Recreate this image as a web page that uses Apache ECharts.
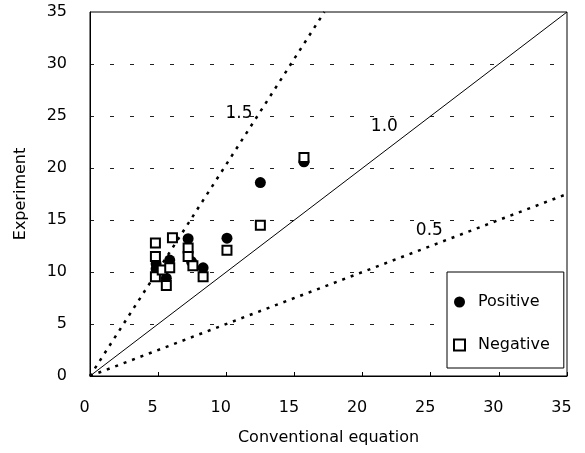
<!DOCTYPE html>
<html>
<head>
<meta charset="utf-8">
<script src="https://cdn.jsdelivr.net/npm/echarts@6/dist/echarts.min.js"></script>
<style>
html,body{margin:0;padding:0;background:#fff;}
#chart{width:585px;height:453px;}
</style>
</head>
<body>
<div id="chart"></div>
<script>
// Data
const positiveX = [4.85, 4.85, 5.6, 5.85, 7.2, 7.45, 8.3, 10.05, 12.5, 15.7];
const positiveY = [10.8, 10.3, 9.4, 11.15, 13.2, 11.0, 10.4, 13.25, 18.6, 20.6];
const negativeX = [4.8, 4.8, 4.8, 5.3, 5.6, 5.85, 6.05, 7.2, 7.2, 7.55, 8.3, 10.05, 12.5, 15.7];
const negativeY = [12.8, 11.5, 9.55, 10.2, 8.7, 10.4, 13.3, 12.3, 11.5, 10.6, 9.55, 12.1, 14.5, 21.0];

// Reference ratio lines (end points)
const line15X = [0, 17.2];
const line15Y = [0, 35];
const line10X = [0, 35];
const line10Y = [0, 35];
const line05X = [0, 35];
const line05Y = [0, 17.5];

// Ratio line labels
const ratioLabels = ['1.5', '1.0', '0.5'];
const ratioLabelX = [10.93, 21.6, 24.9];
const ratioLabelY = [25.2, 24.0, 14.0];

const seriesNames = ['Positive', 'Negative'];
const xAxisName = 'Conventional equation';
const yAxisName = 'Experiment';

const FONT = 'DejaVu Sans';
const zip = (a, b) => a.map((v, i) => [v, b[i]]);

const chart = echarts.init(document.getElementById('chart'), null, {renderer: 'canvas'});
chart.setOption({
  animation: false,
  backgroundColor: '#fff',
  textStyle: {fontFamily: FONT, color: '#000'},
  grid: {left: 90, right: 18, top: 12, bottom: 77, show: true, borderColor: '#000', borderWidth: 1, backgroundColor: 'transparent'},
  xAxis: {
    type: 'value', min: 0, max: 35, interval: 5,
    name: xAxisName, nameLocation: 'middle', nameGap: 54,
    nameTextStyle: {fontFamily: FONT, fontSize: 16, color: '#000'},
    axisLine: {show: true, lineStyle: {color: '#000', width: 1}},
    axisTick: {show: true, inside: true, length: 4, lineStyle: {color: '#000'}},
    axisLabel: {fontFamily: FONT, fontSize: 16, color: '#000', margin: 24, padding: [0, 11, 0, 0]},
    splitLine: {show: false}
  },
  yAxis: {
    type: 'value', min: 0, max: 35, interval: 5,
    name: yAxisName, nameLocation: 'middle', nameGap: 61, nameRotate: 90,
    nameTextStyle: {fontFamily: FONT, fontSize: 16, color: '#000'},
    axisLine: {show: true, lineStyle: {color: '#000', width: 1}},
    axisTick: {show: false},
    axisLabel: {fontFamily: FONT, fontSize: 16, color: '#000', margin: 23, padding: [8, 0, 0, 0]},
    splitLine: {show: true, showMinLine: false, showMaxLine: false, lineStyle: {color: '#222', width: 1, type: [4, 16]}}
  },
  legend: {
    data: seriesNames,
    orient: 'vertical',
    left: 447, top: 272,
    padding: [22, 14, 15, 6],
    itemWidth: 11, itemHeight: 11,
    itemGap: 27,
    borderColor: '#000', borderWidth: 1,
    backgroundColor: '#fff',
    textStyle: {fontFamily: FONT, fontSize: 16, color: '#000', lineHeight: 16, padding: [0, 0, 0, 8]}
  },
  series: [
    {
      type: 'line', name: 'r15', data: zip(line15X, line15Y), symbol: 'none', silent: true,
      lineStyle: {color: '#000', width: 2.5, type: [3, 6]}, z: 1
    },
    {
      type: 'line', name: 'r10', data: zip(line10X, line10Y), symbol: 'none', silent: true,
      lineStyle: {color: '#000', width: 1, type: 'solid'}, z: 1
    },
    {
      type: 'line', name: 'r05', data: zip(line05X, line05Y), symbol: 'none', silent: true,
      lineStyle: {color: '#000', width: 2.5, type: [3, 6]}, z: 1
    },
    {
      type: 'scatter', name: 'labels', silent: true, symbolSize: 1,
      itemStyle: {opacity: 1, color: 'rgba(0,0,0,0)'},
      data: ratioLabels.map((t, i) => ({value: [ratioLabelX[i], ratioLabelY[i]], name: t})),
      label: {show: true, position: 'inside', opacity: 1, formatter: p => p.name, fontFamily: FONT, fontSize: 17, color: '#000'},
      z: 3
    },
    {
      type: 'scatter', name: seriesNames[0], data: zip(positiveX, positiveY),
      symbol: 'circle', symbolSize: 11,
      itemStyle: {color: '#000', opacity: 1}, z: 4
    },
    {
      type: 'scatter', name: seriesNames[1], data: zip(negativeX, negativeY),
      symbol: 'rect', symbolSize: 9,
      itemStyle: {color: '#fff', borderColor: '#000', borderWidth: 2, opacity: 1}, z: 5
    }
  ]
});
</script>
</body>
</html>
